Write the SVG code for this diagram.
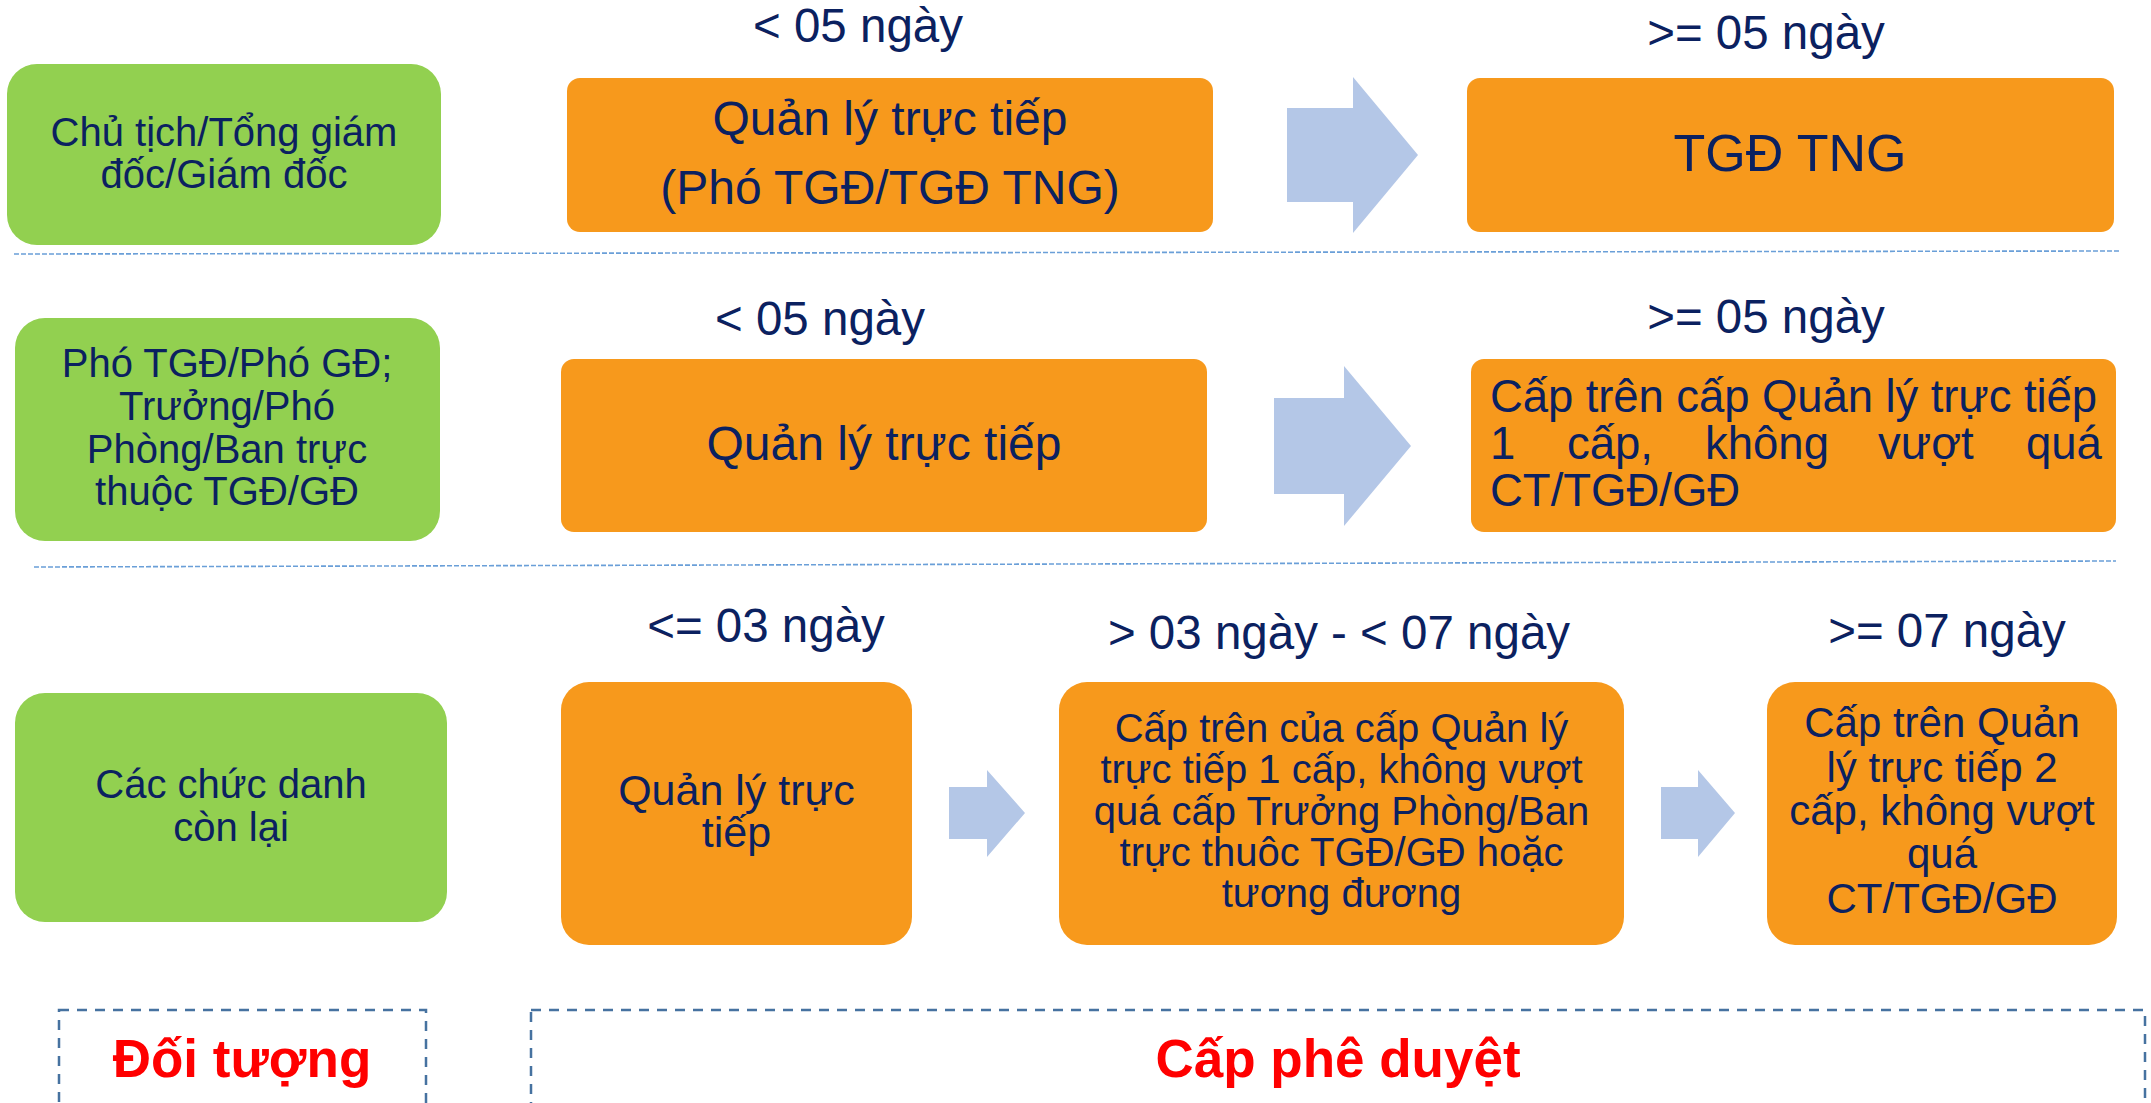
<svg xmlns="http://www.w3.org/2000/svg" width="2151" height="1103" viewBox="0 0 2151 1103">
  <style>
    text { font-family: "Liberation Sans", Arial, sans-serif; fill: #0B2160; }
    .who { fill: #92D050; }
    .lvl { fill: #F7991C; }
    .t40 { font-size: 40px; }
    .t42 { font-size: 42px; }
    .t43 { font-size: 43px; }
    .t45 { font-size: 45.5px; }
    .t48 { font-size: 48px; }
    .t52 { font-size: 52px; }
    .lbl { font-size: 47.5px; }
    .mid { text-anchor: middle; }
    .sep { stroke: #6A9FD8; stroke-width: 1.6; stroke-dasharray: 5 2; fill: none; }
    .frame { stroke: #4672A0; stroke-width: 2.5; stroke-dasharray: 10 8; fill: none; }
    .head { font-size: 53px; font-weight: bold; fill: #FF0000; }
    .arrow { fill: #B4C7E7; }
  </style>

  <!-- row separators -->
  <line class="sep" x1="14" y1="254" x2="2119" y2="251"/>
  <line class="sep" x1="34" y1="567" x2="2116" y2="561"/>

  <!-- row 1 -->
  <g id="who-ct">
    <rect class="who" x="7" y="64" width="434" height="181" rx="30"/>
    <text class="t40 mid" x="224" y="146">Chủ tịch/Tổng giám</text>
    <text class="t40 mid" x="224" y="188">đốc/Giám đốc</text>
  </g>
  <text class="lbl mid" x="858" y="42">&lt; 05 ngày</text>
  <g id="r1-direct">
    <rect class="lvl" x="567" y="78" width="646" height="154" rx="13"/>
    <text class="t48 mid" x="890" y="135">Quản lý trực tiếp</text>
    <text class="t48 mid" x="890" y="204">(Phó TGĐ/TGĐ TNG)</text>
  </g>
  <text class="lbl mid" x="1766" y="49">&gt;= 05 ngày</text>
  <g id="r1-tgd">
    <rect class="lvl" x="1467" y="78" width="647" height="154" rx="13"/>
    <text class="t52 mid" x="1790" y="171">TGĐ TNG</text>
  </g>

  <!-- row 2 -->
  <g id="who-pho">
    <rect class="who" x="15" y="318" width="425" height="223" rx="30"/>
    <text class="t40 mid" x="227" y="377">Phó TGĐ/Phó GĐ;</text>
    <text class="t40 mid" x="227" y="420">Trưởng/Phó</text>
    <text class="t40 mid" x="227" y="463">Phòng/Ban trực</text>
    <text class="t40 mid" x="227" y="505">thuộc TGĐ/GĐ</text>
  </g>
  <text class="lbl mid" x="820" y="335">&lt; 05 ngày</text>
  <g id="r2-direct">
    <rect class="lvl" x="561" y="359" width="646" height="173" rx="13"/>
    <text class="t48 mid" x="884" y="460">Quản lý trực tiếp</text>
  </g>
  <text class="lbl mid" x="1766" y="333">&gt;= 05 ngày</text>
  <g id="r2-upper">
    <rect class="lvl" x="1471" y="359" width="645" height="173" rx="13"/>
    <text class="t45" x="1490" y="412" textLength="607" lengthAdjust="spacing">Cấp trên cấp Quản lý trực tiếp</text>
    <text class="t45" y="459"><tspan x="1490">1</tspan><tspan x="1567">cấp,</tspan><tspan x="1705">không</tspan><tspan x="1878">vượt</tspan><tspan x="2026">quá</tspan></text>
    <text class="t45" x="1490" y="506">CT/TGĐ/GĐ</text>
  </g>

  <!-- row 3 -->
  <g id="who-other">
    <rect class="who" x="15" y="693" width="432" height="229" rx="30"/>
    <text class="t40 mid" x="231" y="798">Các chức danh</text>
    <text class="t40 mid" x="231" y="841">còn lại</text>
  </g>
  <text class="lbl mid" x="766" y="642">&lt;= 03 ngày</text>
  <g id="r3-direct">
    <rect class="lvl" x="561" y="682" width="351" height="263" rx="28"/>
    <text class="t43 mid" x="736.5" y="805">Quản lý trực</text>
    <text class="t43 mid" x="736.5" y="847">tiếp</text>
  </g>
  <text class="lbl mid" x="1339" y="649">&gt; 03 ngày - &lt; 07 ngày</text>
  <g id="r3-upper1">
    <rect class="lvl" x="1059" y="682" width="565" height="263" rx="28"/>
    <text class="t40 mid" x="1341.5" y="742">Cấp trên của cấp Quản lý</text>
    <text class="t40 mid" x="1341.5" y="783">trực tiếp 1 cấp, không vượt</text>
    <text class="t40 mid" x="1341.5" y="825">quá cấp Trưởng Phòng/Ban</text>
    <text class="t40 mid" x="1341.5" y="866">trực thuôc TGĐ/GĐ hoặc</text>
    <text class="t40 mid" x="1341.5" y="907">tương đương</text>
  </g>
  <text class="lbl mid" x="1947" y="647">&gt;= 07 ngày</text>
  <g id="r3-upper2">
    <rect class="lvl" x="1767" y="682" width="350" height="263" rx="28"/>
    <text class="t42 mid" x="1942" y="737">Cấp trên Quản</text>
    <text class="t42 mid" x="1942" y="782">lý trực tiếp 2</text>
    <text class="t42 mid" x="1942" y="825">cấp, không vượt</text>
    <text class="t42 mid" x="1942" y="868">quá</text>
    <text class="t42 mid" x="1942" y="913">CT/TGĐ/GĐ</text>
  </g>

  <!-- block arrows between approval levels -->
  <g id="connectors">
    <polygon class="arrow" points="1287,108 1353,108 1353,77 1418,155 1353,233 1353,202 1287,202"/>
    <polygon class="arrow" points="1274,398 1344,398 1344,366 1411,446 1344,526 1344,494 1274,494"/>
    <polygon class="arrow" points="949,787 987,787 987,770 1025,813 987,857 987,839 949,839"/>
    <polygon class="arrow" points="1661,787 1698,787 1698,770 1735,813 1698,857 1698,839 1661,839"/>
  </g>

  <!-- column captions -->
  <g id="cap-who">
    <rect class="frame" x="59" y="1010" width="367" height="120"/>
    <text class="head mid" x="242" y="1077">Đối tượng</text>
  </g>
  <g id="cap-level">
    <rect class="frame" x="531" y="1010" width="1614" height="120"/>
    <text class="head mid" x="1338" y="1077">Cấp phê duyệt</text>
  </g>
</svg>
